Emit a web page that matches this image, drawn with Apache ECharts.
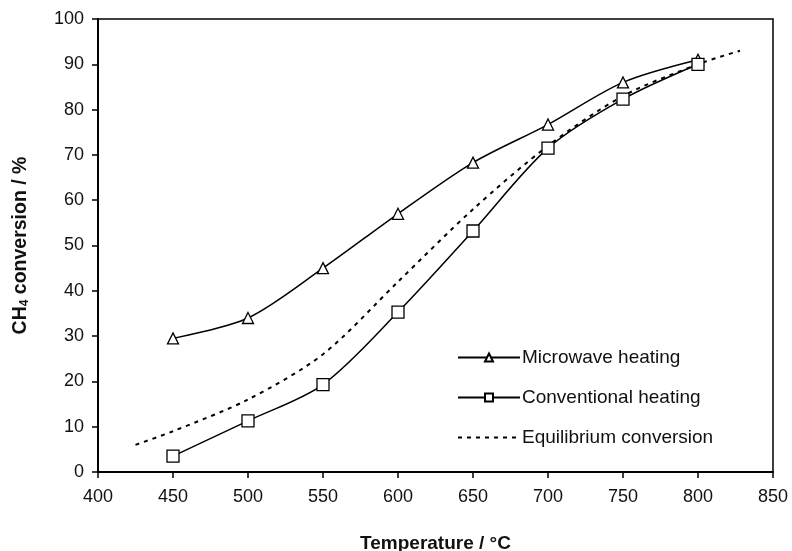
<!DOCTYPE html>
<html><head><meta charset="utf-8">
<script src="https://cdn.jsdelivr.net/npm/echarts@6/dist/echarts.min.js"></script>
<style>html,body{margin:0;padding:0;background:#fff}#c{width:792px;height:551px}</style>
</head><body><div id="c"></div>
<script>
const temps = [450, 500, 550, 600, 650, 700, 750, 800];
const microwave = [29.5, 34, 45, 57, 68.3, 76.7, 86, 91];
const conventional = [3.5, 11.3, 19.3, 35.3, 53.2, 71.5, 82.3, 90];
const eqTemps = [425, 450, 500, 550, 600, 650, 700, 750, 800, 828];
const equilibrium = [6, 9, 16, 26, 42, 58, 72, 83, 90, 93];
const seriesNames = ['Microwave heating', 'Conventional heating', 'Equilibrium conversion'];

const zip = (xs, ys) => xs.map((x, i) => [x, ys[i]]);
const font = 'Liberation Sans, Arial, sans-serif';
const chart = echarts.init(document.getElementById('c'));
chart.setOption({
  animation: false,
  backgroundColor: '#fff',
  grid: { left: 98, right: 19, top: 19, bottom: 79, show: true, borderColor: '#000', borderWidth: 1.5,
          containLabel: false, outerBoundsMode: 'none' },
  legend: {
    orient: 'vertical', left: 452, top: 343, itemGap: 21, itemWidth: 62, itemHeight: 10,
    textStyle: { fontFamily: font, fontSize: 19, color: '#111', padding: [0, 0, 0, -3] },
    data: [
      { name: seriesNames[0] },
      { name: seriesNames[1] },
      { name: seriesNames[2], itemStyle: { opacity: 0 } }
    ]
  },
  xAxis: {
    type: 'value', min: 400, max: 850, interval: 50,
    name: 'Temperature / \u00b0C', nameLocation: 'middle', nameGap: 62,
    nameTextStyle: { fontFamily: font, fontSize: 19, fontWeight: 'bold', color: '#111' },
    axisLine: { show: true, lineStyle: { color: '#000', width: 2 } },
    axisTick: { show: true, inside: false, length: 6, lineStyle: { color: '#000', width: 1.5 } },
    axisLabel: { fontFamily: font, fontSize: 18, color: '#111', margin: 16 },
    splitLine: { show: false }
  },
  yAxis: {
    type: 'value', min: 0, max: 100, interval: 10,
    name: '{a|CH}{b|4}{a| conversion / %}', nameLocation: 'middle', nameGap: 67,
    nameTextStyle: { rich: {
      a: { fontFamily: font, fontSize: 19.5, fontWeight: 'bold', color: '#111' },
      b: { fontFamily: font, fontSize: 12, fontWeight: 'bold', color: '#111', verticalAlign: 'bottom', padding: [8, 0, 0, 0] }
    } },
    axisLine: { show: true, lineStyle: { color: '#000', width: 2 } },
    axisTick: { show: true, inside: false, length: 6, lineStyle: { color: '#000', width: 1.5 } },
    axisLabel: { fontFamily: font, fontSize: 18, color: '#111', margin: 14 },
    splitLine: { show: false }
  },
  series: [
    { name: seriesNames[0], type: 'line', data: zip(temps, microwave), smooth: 0.3,
      symbol: 'triangle', symbolSize: 11, showSymbol: true,
      lineStyle: { color: '#000', width: 1.5 },
      itemStyle: { color: '#fff', borderColor: '#000', borderWidth: 1.3 }, z: 3 },
    { name: seriesNames[1], type: 'line', data: zip(temps, conventional), smooth: 0.3,
      symbol: 'rect', symbolSize: 12, showSymbol: true,
      lineStyle: { color: '#000', width: 1.5 },
      itemStyle: { color: '#fff', borderColor: '#000', borderWidth: 1.3 }, z: 3 },
    { name: seriesNames[2], type: 'line', data: zip(eqTemps, equilibrium), smooth: 0.3,
      symbol: 'none', showSymbol: false,
      lineStyle: { color: '#000', width: 2, type: [4, 5] },
      itemStyle: { color: '#000' }, z: 2 }
  ]
});
</script></body></html>
